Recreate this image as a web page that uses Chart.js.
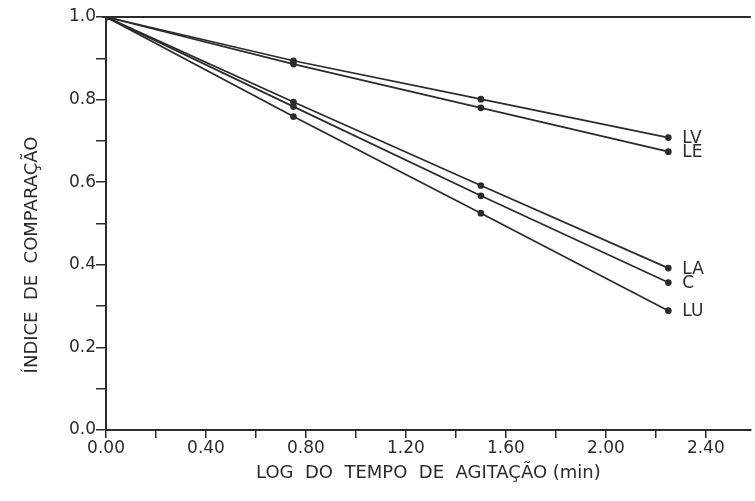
<!DOCTYPE html>
<html>
<head>
<meta charset="utf-8">
<script src="https://cdn.jsdelivr.net/npm/chart.js@4.4.1/dist/chart.umd.min.js"></script>
<style>
  html, body { margin: 0; padding: 0; background: #fff; }
  #wrap { width: 755px; height: 501px; position: relative; }
</style>
</head>
<body>
<div id="wrap"><canvas id="chart"></canvas></div>
<script>
// data
const xValues = [0.00, 0.75, 1.50, 2.25];
const seriesNames = ['LV', 'LE', 'LA', 'C', 'LU'];
const lvValues = [1.0, 0.894, 0.801, 0.708];
const leValues = [1.0, 0.886, 0.780, 0.674];
const laValues = [1.0, 0.794, 0.592, 0.392];
const cValues  = [1.0, 0.783, 0.567, 0.357];
const luValues = [1.0, 0.759, 0.525, 0.289];

const xTicks = [0, 0.2, 0.4, 0.6, 0.8, 1.0, 1.2, 1.4, 1.6, 1.8, 2.0, 2.2, 2.4];
const xTickLabels = ['0.00', '', '0.40', '', '0.80', '', '1.20', '', '1.60', '', '2.00', '', '2.40'];
const yTicks = [0, 0.1, 0.2, 0.3, 0.4, 0.5, 0.6, 0.7, 0.8, 0.9, 1.0];
const yTickLabels = ['0.0', '', '0.2', '', '0.4', '', '0.6', '', '0.8', '', '1.0'];

const ink = '#2b2b2b';
const font = "'DejaVu Sans', sans-serif";

function makeSet(name, values) {
    return {
        label: name,
        data: xValues.map((x, i) => ({x: x, y: values[i]})),
        borderColor: ink,
        backgroundColor: ink,
        borderWidth: 1.7,
        pointRadius: 2.5,
        pointHoverRadius: 2.5,
        tension: 0
    };
}

// top frame line, end labels and y title
const extras = {
    id: 'extras',
    afterDraw(chart) {
        const ctx = chart.ctx;
        const area = chart.chartArea;
        ctx.save();
        ctx.strokeStyle = ink;
        ctx.lineWidth = 2;
        ctx.beginPath();
        ctx.moveTo(area.left - 4, area.top);
        ctx.lineTo(area.right, area.top);
        ctx.stroke();

        ctx.fillStyle = ink;
        ctx.font = '17px ' + font;
        ctx.textBaseline = 'middle';
        chart.data.datasets.forEach((ds, i) => {
            const pts = chart.getDatasetMeta(i).data;
            const last = pts[pts.length - 1];
            ctx.fillText(ds.label, last.x + 14, last.y + 1);
        });

        ctx.font = '18px ' + font;
        ctx.textAlign = 'center';
        ctx.translate(32, 255);
        ctx.rotate(-Math.PI / 2);
        ctx.fillText('ÍNDICE  DE  COMPARAÇÃO', 0, 0);
        ctx.restore();
    }
};

const data = {
    datasets: [
        makeSet(seriesNames[0], lvValues),
        makeSet(seriesNames[1], leValues),
        makeSet(seriesNames[2], laValues),
        makeSet(seriesNames[3], cValues),
        makeSet(seriesNames[4], luValues)
    ]
};

const config = {
    type: 'line',
    data: data,
    options: {
        responsive: true,
        maintainAspectRatio: false,
        animation: false,
        layout: { padding: { left: 69, top: 17, right: 0, bottom: 13 } },
        plugins: { legend: { display: false }, tooltip: { enabled: false } },
        scales: {
            x: {
                type: 'linear',
                min: 0,
                max: 2.58,
                afterBuildTicks: axis => { axis.ticks = xTicks.map(v => ({value: v})); },
                ticks: {
                    autoSkip: false,
                    maxRotation: 0,
                    color: ink,
                    font: { family: font, size: 17 },
                    padding: 0,
                    callback: (v, i) => xTickLabels[i]
                },
                grid: { drawOnChartArea: false, drawTicks: true, tickLength: 8, color: ink, lineWidth: 1.5 },
                border: { display: true, color: ink, width: 2 },
                title: {
                    display: true,
                    text: 'LOG  DO  TEMPO  DE  AGITAÇÃO (min)',
                    color: ink,
                    font: { family: font, size: 18 },
                    padding: { top: 4 }
                }
            },
            y: {
                type: 'linear',
                min: 0,
                max: 1,
                afterBuildTicks: axis => { axis.ticks = yTicks.map(v => ({value: v})); },
                ticks: {
                    autoSkip: false,
                    color: ink,
                    font: { family: font, size: 17 },
                    padding: 0,
                    callback: (v, i) => yTickLabels[i]
                },
                grid: { drawOnChartArea: false, drawTicks: true, tickLength: 10, color: ink, lineWidth: 1.5 },
                border: { display: true, color: ink, width: 2 }
            }
        }
    },
    plugins: [extras]
};

window.onload = function() {
    new Chart(document.getElementById('chart'), config);
};
</script>
</body>
</html>
